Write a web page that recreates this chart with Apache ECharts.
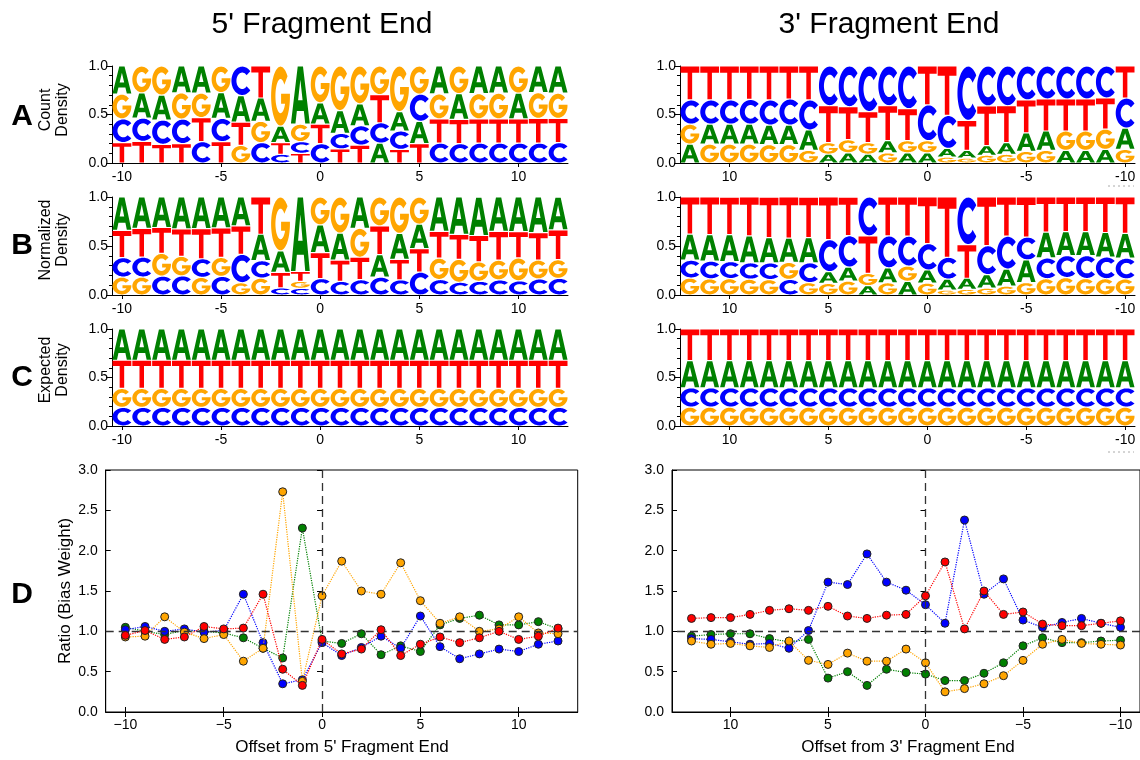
<!DOCTYPE html>
<html>
<head>
<meta charset="utf-8">
<script src="https://cdn.jsdelivr.net/npm/echarts@6.0.0/dist/echarts.min.js"></script>
<style>
  html, body { margin: 0; padding: 0; background: #fff; }
  #chart { width: 1140px; height: 760px; }
</style>
</head>
<body>
<div id="chart"></div>
<script>
// positions (offset from fragment end), same list for both ends
const positions = [-10, -9, -8, -7, -6, -5, -4, -3, -2, -1, 0, 1, 2, 3, 4, 5, 6, 7, 8, 9, 10, 11, 12];
const bases = ['A', 'C', 'G', 'T'];
const baseColors = ['#008000', '#0000ff', '#ffa500', '#ff0000'];
const xTicks = [-10, -5, 0, 5, 10];

// 5' end, count density (row A)
const count5A = [.29, .26, .257, .277, .28, .265, .274, .24, .17, .60, .22, .235, .226, .205, .2, .23, .288, .265, .285, .28, .265, .275, .28];
const count5C = [.245, .24, .25, .253, .22, .24, .305, .21, .09, .12, .199, .16, .2, .21, .19, .28, .205, .2, .205, .205, .205, .205, .21];
const count5G = [.255, .277, .30, .27, .252, .275, .181, .22, .62, .18, .38, .46, .39, .295, .47, .29, .257, .285, .26, .265, .28, .265, .26];
const count5T = [.21, .223, .193, .2, .248, .22, .24, .33, .12, .10, .201, .145, .184, .29, .14, .2, .25, .25, .25, .25, .25, .255, .25];

// 5' end, normalized density (row B)
const norm5A = [.341, .321, .311, .326, .322, .315, .295, .27, .22, .76, .283, .276, .319, .23, .264, .248, .351, .381, .392, .351, .353, .364, .334];
const norm5C = [.198, .203, .193, .195, .19, .19, .29, .178, .072, .068, .168, .139, .156, .182, .155, .233, .158, .13, .14, .154, .145, .164, .17];
const norm5G = [.183, .183, .232, .2, .18, .193, .125, .172, .55, .072, .285, .369, .296, .295, .372, .277, .218, .234, .198, .201, .233, .193, .19];
const norm5T = [.279, .293, .264, .279, .308, .302, .29, .38, .158, .10, .264, .216, .229, .293, .209, .241, .273, .255, .269, .294, .269, .279, .305];

// expected density (row C), identical at every position: A, C, G, T
const expected5 = [.322, .192, .195, .291];
const expected3 = [.281, .199, .195, .325];

// 5' end, ratio (row D)
const ratio5A = [1.05, 1.00, 0.96, 1.01, 1.00, 0.98, 0.92, 0.79, 0.67, 2.28, 0.88, 0.85, 0.97, 0.71, 0.82, 0.75, 1.08, 1.16, 1.20, 1.08, 1.08, 1.12, 1.03];
const ratio5C = [1.02, 1.06, 1.00, 1.03, 0.99, 1.01, 1.46, 0.86, 0.35, 0.40, 0.86, 0.70, 0.80, 0.94, 0.79, 1.19, 0.81, 0.66, 0.72, 0.78, 0.75, 0.84, 0.88];
const ratio5G = [0.93, 0.94, 1.18, 0.99, 0.91, 0.96, 0.63, 0.79, 2.73, 0.38, 1.44, 1.87, 1.50, 1.46, 1.85, 1.38, 1.10, 1.18, 1.00, 1.03, 1.18, 0.98, 0.97];
const ratio5T = [0.95, 1.01, 0.90, 0.93, 1.06, 1.03, 1.04, 1.46, 0.53, 0.33, 0.90, 0.72, 0.78, 1.02, 0.70, 0.84, 0.93, 0.86, 0.92, 1.00, 0.90, 0.94, 1.04];

// 3' end, count density
const count3A = [.22, .14, .13, .13, .2, .19, .12, .1, .08, .09, .105, .105, .125, .09, .105, .09, .21, .2, .2, .205, .205, .205, .195];
const count3C = [.31, .33, .34, .34, .34, .35, .41, .412, .56, .34, .37, .44, .41, .47, .42, .41, .31, .27, .26, .255, .25, .25, .25];
const count3G = [.14, .21, .2, .2, .13, .12, .09, .08, .05, .06, .125, .125, .105, .12, .135, .12, .13, .19, .19, .195, .195, .195, .205];
const count3T = [.33, .32, .33, .33, .33, .34, .38, .408, .31, .51, .40, .33, .36, .32, .34, .38, .35, .34, .35, .345, .35, .35, .35];

// 3' end, normalized density
const norm3A = [.253, .25, .245, .245, .263, .231, .175, .137, .113, .112, .134, .14, .152, .095, .143, .12, .256, .247, .258, .275, .275, .272, .266];
const norm3C = [.212, .222, .234, .224, .212, .233, .335, .296, .486, .223, .269, .305, .326, .397, .32, .327, .203, .159, .171, .168, .174, .18, .182];
const norm3G = [.164, .166, .168, .178, .166, .127, .09, .07, .058, .05, .121, .155, .125, .125, .142, .118, .126, .174, .157, .161, .167, .165, .173];
const norm3T = [.371, .362, .353, .353, .359, .409, .401, .497, .343, .615, .476, .40, .397, .383, .394, .435, .414, .42, .413, .396, .383, .383, .379];

// 3' end, ratio
const ratio3A = [.89, .88, .86, .86, .92, .82, .61, .48, .39, .39, .47, .49, .53, .33, .50, .42, .90, .87, .91, .97, .97, .96, .94];
const ratio3C = [1.05, 1.10, 1.16, 1.11, 1.05, 1.14, 1.65, 1.46, 2.38, 1.10, 1.33, 1.51, 1.61, 1.96, 1.58, 1.61, 1.01, .79, .85, .84, .87, .90, .91];
const ratio3G = [.83, .84, .85, .90, .84, .64, .45, .35, .29, .25, .61, .78, .63, .63, .73, .59, .64, .88, .80, .82, .85, .84, .88];
const ratio3T = [1.13, 1.10, 1.07, 1.07, 1.09, 1.24, 1.21, 1.50, 1.03, 1.86, 1.44, 1.21, 1.20, 1.16, 1.19, 1.31, 1.26, 1.28, 1.26, 1.21, 1.17, 1.17, 1.16];

const fontFamily = '"Liberation Sans", Arial, Helvetica, sans-serif';

// ---- letter outlines in a 100x100 box, stretched to fill each stack cell ----
function ring(cx, cy, rx, ry, a0, a1, step) {
  const pts = [];
  const n = Math.max(2, Math.round(Math.abs(a1 - a0) / step));
  for (let i = 0; i <= n; i++) {
    const a = (a0 + (a1 - a0) * i / n) * Math.PI / 180;
    pts.push([cx + rx * Math.cos(a), cy - ry * Math.sin(a)]);
  }
  return pts;
}
function toPath(pts) {
  return 'M' + pts.map(p => p[0].toFixed(2) + ',' + p[1].toFixed(2)).join('L') + 'Z';
}
const glyphC = toPath(ring(50, 50, 50, 50, 42, 318, 4).concat(ring(50, 50, 27, 29, 318, 42, 4)));
const gInnerA = 360 - Math.asin(13 / 29) * 180 / Math.PI;
const glyphG = toPath(
  ring(50, 50, 50, 50, 42, 358, 4)
    .concat([[100, 46], [53, 46], [53, 63]])
    .concat(ring(50, 50, 27, 29, gInnerA, 42, 4))
);
const glyphs = [
  'M0,100L36,0L64,0L100,100L76,100L68.5,78L31.5,78L24,100Z M38,59L62,59L50,23Z',
  glyphC,
  glyphG,
  'M0,0L100,0L100,19L62,19L62,100L38,100L38,19L0,19Z'
];

function stackColumns(cols) {
  // cols: four arrays (A, C, G, T) of 23 values; smallest letter at the bottom
  const out = [];
  positions.forEach((p, i) => {
    const col = cols.map((arr, k) => ({ k, v: arr[i] }));
    col.sort((a, b) => a.v - b.v);
    let y = 0;
    col.forEach(c => { out.push([p, y, y + c.v, c.k]); y += c.v; });
  });
  return out;
}
const constCols = vals => vals.map(v => positions.map(() => v));

function renderLetter(params, api) {
  const x = api.value(0), y0 = api.value(1), y1 = api.value(2), k = api.value(3);
  const a = api.coord([x - 0.5, y1]);
  const b = api.coord([x + 0.5, y0]);
  const left = Math.min(a[0], b[0]);
  const w = Math.abs(b[0] - a[0]);
  const h = b[1] - a[1];
  if (h < 0.3) return null;
  const pad = h > 4 ? 0.6 : 0.1;
  return {
    type: 'path',
    shape: {
      pathData: glyphs[k],
      x: left + w * 0.025, y: a[1] + pad,
      width: w * 0.95, height: h - 2 * pad,
      layout: 'cover'
    },
    style: { fill: baseColors[k] }
  };
}

const logoGrids = [
  { left: 112, top: 66, width: 456, height: 97 },
  { left: 112, top: 197, width: 456, height: 98 },
  { left: 112, top: 329, width: 456, height: 97 },
  { left: 680, top: 66, width: 455, height: 97 },
  { left: 680, top: 197, width: 455, height: 98 },
  { left: 680, top: 329, width: 455, height: 97 }
];
const ratioGrids = [
  { left: 105.7, top: 470, width: 472, height: 242 },
  { left: 672, top: 470, width: 472, height: 242 }
];

const labelStyle = { color: '#000', fontSize: 14, fontFamily: fontFamily };

const grid = [];
const xAxis = [];
const yAxis = [];
const series = [];

logoGrids.forEach((g, i) => {
  grid.push(Object.assign({ containLabel: false }, g));
  xAxis.push({
    gridIndex: i, type: 'value', min: -10.5, max: 12.5, inverse: i >= 3,
    axisLine: { show: true, onZero: false, lineStyle: { color: '#000', width: 1 } },
    axisTick: { show: true, length: 4, customValues: xTicks, lineStyle: { color: '#000' } },
    axisLabel: Object.assign({ customValues: xTicks, margin: 7, formatter: v => String(v) }, labelStyle),
    splitLine: { show: false }
  });
  yAxis.push({
    gridIndex: i, type: 'value', min: 0, max: 1, interval: 0.5,
    axisLine: { show: true, onZero: false, lineStyle: { color: '#000', width: 1 } },
    axisTick: { show: true, length: 6, lineStyle: { color: '#000' } },
    minorTick: { show: true, splitNumber: 5, length: 3, lineStyle: { color: '#000' } },
    axisLabel: Object.assign({ margin: 4, formatter: v => v.toFixed(1) }, labelStyle),
    splitLine: { show: false }, minorSplitLine: { show: false }
  });
});

const logoSets = [
  [count5A, count5C, count5G, count5T],
  [norm5A, norm5C, norm5G, norm5T],
  constCols(expected5),
  [count3A, count3C, count3G, count3T],
  [norm3A, norm3C, norm3G, norm3T],
  constCols(expected3)
];
logoSets.forEach((cols, i) => {
  series.push({
    type: 'custom', xAxisIndex: i, yAxisIndex: i,
    renderItem: renderLetter,
    data: stackColumns(cols),
    silent: true
  });
});

ratioGrids.forEach((g, j) => {
  const i = 6 + j;
  grid.push(Object.assign({ containLabel: false, show: true, borderColor: '#000', borderWidth: 1, backgroundColor: 'transparent' }, g));
  xAxis.push({
    gridIndex: i, type: 'value', min: -11, max: 13, inverse: j === 1,
    axisLine: { show: true, onZero: false, lineStyle: { color: '#000', width: 1 } },
    axisTick: { show: true, inside: true, length: 5, customValues: xTicks, lineStyle: { color: '#000' } },
    axisLabel: Object.assign({ customValues: xTicks, margin: 6, formatter: v => (v < 0 ? '\u2212' + (-v) : String(v)) }, labelStyle),
    splitLine: { show: false }
  });
  yAxis.push({
    gridIndex: i, type: 'value', min: 0, max: 3, interval: 0.5,
    axisLine: { show: true, onZero: false, lineStyle: { color: '#000', width: 1 } },
    axisTick: { show: true, inside: true, length: 5, lineStyle: { color: '#000' } },
    axisLabel: Object.assign({ margin: 8, formatter: v => v.toFixed(1) }, labelStyle),
    splitLine: { show: false }
  });
});
// mirrored tick marks on the top and right spines of the ratio panels
ratioGrids.forEach((g, j) => {
  const i = 6 + j;
  xAxis.push({
    gridIndex: i, type: 'value', min: -11, max: 13, inverse: j === 1, position: 'top',
    axisLine: { show: false },
    axisTick: { show: true, inside: true, length: 5, customValues: xTicks, lineStyle: { color: '#000' } },
    axisLabel: { show: false }, splitLine: { show: false }
  });
  yAxis.push({
    gridIndex: i, type: 'value', min: 0, max: 3, interval: 0.5, position: 'right',
    axisLine: { show: false },
    axisTick: { show: true, inside: true, length: 5, lineStyle: { color: '#000' } },
    axisLabel: { show: false }, splitLine: { show: false }
  });
});

const ratioSets = [
  [ratio5A, ratio5C, ratio5G, ratio5T],
  [ratio3A, ratio3C, ratio3G, ratio3T]
];
ratioSets.forEach((set, j) => {
  const i = 6 + j;
  // dashed reference lines at ratio 1 and offset 0
  series.push({
    type: 'line', xAxisIndex: i, yAxisIndex: i, data: [], z: 1, silent: true,
    markLine: {
      silent: true, symbol: ['none', 'none'], label: { show: false },
      lineStyle: { color: '#333', type: [8, 5], width: 1.3 },
      data: [{ yAxis: 1 }, { xAxis: 0 }]
    }
  });
  set.forEach((vals, k) => {
    series.push({
      type: 'line', xAxisIndex: i, yAxisIndex: i, z: 2 + k,
      data: positions.map((p, n) => [p, vals[n]]),
      symbol: 'circle', symbolSize: 8, showSymbol: true,
      lineStyle: { color: baseColors[k], type: 'dotted', width: 1.2 },
      itemStyle: { color: baseColors[k], borderColor: '#222', borderWidth: 1, opacity: 1 },
      silent: true
    });
  });
});

function txt(x, y, text, size, opts) {
  return Object.assign({
    type: 'text', x: x, y: y,
    style: {
      text: text, fill: '#000', font: (opts && opts.bold ? 'bold ' : '') + size + 'px ' + fontFamily,
      align: 'center', verticalAlign: 'middle', textAlign: 'center', textVerticalAlign: 'middle',
      lineHeight: opts && opts.lh ? opts.lh : size
    }
  }, opts && opts.rot ? { rotation: Math.PI / 2 } : {});
}
function faintDots(y) {
  return {
    type: 'line', shape: { x1: 1108, y1: y, x2: 1134, y2: y },
    style: { stroke: '#aaa', lineWidth: 1, lineDash: [2, 3] }
  };
}

const graphic = [
  txt(322, 25, "5' Fragment End", 30),
  txt(889, 25, "3' Fragment End", 30),
  txt(22, 117, 'A', 30, { bold: true }),
  txt(22, 246, 'B', 30, { bold: true }),
  txt(22, 378, 'C', 30, { bold: true }),
  txt(22, 595, 'D', 30, { bold: true }),
  txt(54, 110, 'Count\nDensity', 16, { rot: true, lh: 17 }),
  txt(54, 240, 'Normalized\nDensity', 16, { rot: true, lh: 17 }),
  txt(54, 370, 'Expected\nDensity', 16, { rot: true, lh: 17 }),
  txt(65, 591, 'Ratio (Bias Weight)', 17, { rot: true }),
  txt(342, 747, "Offset from 5' Fragment End", 17),
  txt(908, 747, "Offset from 3' Fragment End", 17),
  faintDots(186),
  faintDots(452)
];

const chart = echarts.init(document.getElementById('chart'), null, { renderer: 'canvas' });
chart.setOption({
  animation: false,
  backgroundColor: '#fff',
  grid: grid,
  xAxis: xAxis,
  yAxis: yAxis,
  series: series,
  graphic: { elements: graphic }
});
</script>
</body>
</html>
